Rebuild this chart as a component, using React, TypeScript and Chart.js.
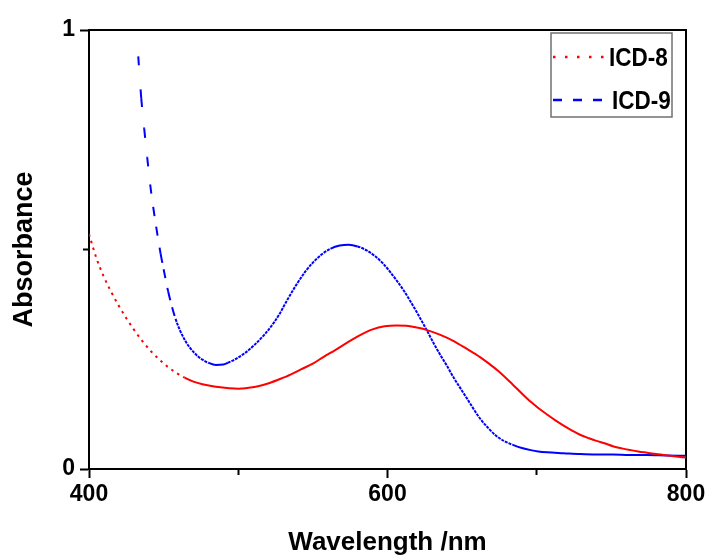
import { useEffect, useRef } from "react";
import { Chart, registerables } from "chart.js";

Chart.register(...registerables);

// ---- data ----
const wavelengthICD8 = [
  400, 405, 410, 415, 420, 425, 430, 436, 442, 448, 453, 459, 464, 470, 476, 482, 488, 494, 500,
  507, 514, 521, 528, 535, 542, 550, 557, 565, 573, 581, 590, 598, 606, 614, 620, 626, 635, 644,
  653, 662, 668, 675, 684, 690, 696, 701, 707, 712, 718, 724, 729, 735, 740, 746, 751, 757, 763,
  768, 774, 780, 785, 792, 800,
];
const absorbanceICD8 = [
  0.535, 0.48, 0.4375, 0.4025, 0.3715, 0.3435, 0.318, 0.2904, 0.2665, 0.2465, 0.232, 0.218, 0.208,
  0.199, 0.193, 0.189, 0.186, 0.184, 0.183, 0.185, 0.189, 0.196, 0.205, 0.215, 0.227, 0.24, 0.255,
  0.271, 0.288, 0.304, 0.318, 0.325, 0.327, 0.326, 0.322, 0.317, 0.306, 0.292, 0.274, 0.255, 0.24,
  0.221, 0.192, 0.172, 0.153, 0.139, 0.124, 0.112, 0.099, 0.087, 0.078, 0.07, 0.064, 0.058, 0.052,
  0.047, 0.043, 0.04, 0.037, 0.034, 0.032, 0.029, 0.026,
];
const wavelengthICD9 = [
  433, 435, 437, 439, 441, 443, 445, 448, 450, 453, 458, 464, 471, 476, 480, 485, 490, 493, 498,
  504, 511, 518, 524, 528, 532, 539, 545, 550, 556, 562, 568, 574, 580, 586, 592, 597, 602, 606,
  611, 615, 620, 626, 631, 635, 640, 644, 649, 653, 658, 662, 667, 673, 678, 684, 690, 696, 701,
  707, 718, 729, 740, 751, 762, 774, 786, 800,
];
const absorbanceICD9 = [
  0.94, 0.845, 0.775, 0.71, 0.648, 0.597, 0.552, 0.49, 0.455, 0.405, 0.342, 0.295, 0.263, 0.249,
  0.242, 0.237, 0.238, 0.242, 0.25, 0.263, 0.283, 0.308, 0.334, 0.355, 0.38, 0.42, 0.45, 0.47,
  0.489, 0.502, 0.509, 0.511, 0.507, 0.498, 0.484, 0.468, 0.448, 0.43, 0.406, 0.384, 0.355, 0.318,
  0.286, 0.262, 0.234, 0.21, 0.183, 0.162, 0.135, 0.115, 0.095, 0.075, 0.064, 0.055, 0.048, 0.043,
  0.04, 0.038, 0.036, 0.034, 0.033, 0.033, 0.032, 0.032, 0.031, 0.03,
];
const seriesNames = ["ICD-8", "ICD-9"];
const seriesColors = ["#ff0000", "#0000ff"];
const xMajorTicks = [400, 600, 800];
const yMajorTicks = [0, 1];
const xAxisTitle = "Wavelength /nm";
const yAxisTitle = "Absorbance";

const FONT = '"Liberation Sans", Arial, Helvetica, sans-serif';

const slope = (c: any) =>
  Math.abs((c.p1.y - c.p0.y) / Math.max(0.01, Math.abs(c.p1.x - c.p0.x)));

export default function App() {
  const ref = useRef<HTMLCanvasElement>(null);

  useEffect(() => {
    const canvas = ref.current;
    if (!canvas) return;

    const legendDashes = [
      [2.5, 9.5],
      [9, 11],
    ];

    const boxLegend = {
      id: "boxLegend",
      afterDatasetsDraw(chart: any) {
        const ctx = chart.ctx as CanvasRenderingContext2D;
        const a = chart.chartArea;
        const x0 = a.right - 135;
        const y0 = a.top + 3;
        const w = 121;
        const h = 84;
        ctx.save();
        ctx.fillStyle = "#ffffff";
        ctx.fillRect(x0, y0, w, h);
        ctx.strokeStyle = "#707070";
        ctx.lineWidth = 1.5;
        ctx.strokeRect(x0, y0, w, h);
        const rowsY = [y0 + 24, y0 + 67];
        chart.data.datasets.forEach((ds: any, i: number) => {
          const y = rowsY[i];
          ctx.beginPath();
          ctx.setLineDash(legendDashes[i]);
          ctx.strokeStyle = ds.borderColor;
          ctx.lineWidth = 2.5;
          ctx.moveTo(x0 + 2, y);
          ctx.lineTo(x0 + 53, y);
          ctx.stroke();
          ctx.setLineDash([]);
          ctx.save();
          ctx.translate(x0 + 58 + i * 3, y + 9);
          ctx.scale(0.9, 1);
          ctx.font = `bold 25px ${FONT}`;
          ctx.fillStyle = "#000";
          ctx.textBaseline = "alphabetic";
          ctx.textAlign = "left";
          ctx.fillText(ds.label, 0, 0);
          ctx.restore();
        });
        ctx.restore();
      },
    };

    const chart = new Chart(canvas, {
      type: "line",
      data: {
        datasets: [
          {
            label: seriesNames[0],
            data: wavelengthICD8.map((x, i) => ({ x, y: absorbanceICD8[i] })),
            borderColor: seriesColors[0],
            backgroundColor: seriesColors[0],
            borderWidth: 2,
            pointRadius: 0,
            fill: false,
            cubicInterpolationMode: "monotone",
            segment: {
              borderDash: (c: any) =>
                c.p0.parsed && c.p0.parsed.x < 470 && slope(c) > 0.5 ? [2.5, 4.5] : undefined,
            },
          },
          {
            label: seriesNames[1],
            data: wavelengthICD9.map((x, i) => ({ x, y: absorbanceICD9[i] })),
            borderColor: seriesColors[1],
            backgroundColor: seriesColors[1],
            borderWidth: 2,
            pointRadius: 0,
            fill: false,
            cubicInterpolationMode: "monotone",
            segment: {
              borderDash: (c: any) => {
                const s = slope(c);
                if (s > 2.5) return [9, Math.min(24, Math.max(6, 2 * s))];
                if (s > 0.4) return [3, 1];
                return undefined;
              },
            },
          },
        ],
      },
      options: {
        animation: false,
        responsive: true,
        maintainAspectRatio: false,
        layout: { padding: { left: 0, top: 30, right: 24, bottom: 0 } },
        plugins: {
          legend: { display: false },
          tooltip: { enabled: false },
        },
        scales: {
          x: {
            type: "linear",
            position: "bottom",
            min: 400,
            max: 800,
            ticks: {
              stepSize: 100,
              autoSkip: false,
              maxRotation: 0,
              padding: 3,
              color: "#000",
              font: { family: FONT, size: 23, weight: "bold" },
              callback: (v: any) => (xMajorTicks.includes(Number(v)) ? String(v) : ""),
            },
            grid: {
              drawOnChartArea: false,
              drawTicks: true,
              tickLength: 9,
              tickWidth: 2,
              tickColor: "#000",
              tickBorderDash: (c: any) =>
                xMajorTicks.includes(c.tick?.value) ? [] : [5, 20],
            },
            border: { display: true, color: "#000", width: 2 },
            title: {
              display: true,
              text: xAxisTitle,
              color: "#000",
              font: { family: FONT, size: 26, weight: "bold" },
              padding: { top: 0, bottom: -2 },
            },
            afterFit: (s: any) => {
              s.height = 87;
            },
          },
          y: {
            type: "linear",
            position: "left",
            min: 0,
            max: 1,
            ticks: {
              stepSize: 0.5,
              padding: 5,
              color: "#000",
              font: { family: FONT, size: 23, weight: "bold" },
              callback: (v: any) => (yMajorTicks.includes(Number(v)) ? String(v) : ""),
            },
            grid: {
              drawOnChartArea: false,
              drawTicks: true,
              tickLength: 9,
              tickWidth: 2,
              tickColor: "#000",
              tickBorderDash: (c: any) =>
                yMajorTicks.includes(c.tick?.value) ? [] : [0, 3, 10],
            },
            border: { display: true, color: "#000", width: 2 },
            title: {
              display: true,
              text: yAxisTitle,
              color: "#000",
              font: { family: FONT, size: 27, weight: "bold" },
              padding: { top: 8, bottom: 0 },
            },
            afterFit: (s: any) => {
              s.width = 89;
            },
          },
          x2: {
            type: "linear",
            position: "top",
            min: 400,
            max: 800,
            ticks: { display: false },
            grid: { drawOnChartArea: false, drawTicks: false },
            border: { display: true, color: "#000", width: 2 },
            afterFit: (s: any) => {
              s.height = 0;
            },
          },
          y2: {
            type: "linear",
            position: "right",
            min: 0,
            max: 1,
            ticks: { display: false },
            grid: { drawOnChartArea: false, drawTicks: false },
            border: { display: true, color: "#000", width: 2 },
            afterFit: (s: any) => {
              s.width = 0;
            },
          },
        },
      } as any,
      plugins: [boxLegend],
    });

    return () => chart.destroy();
  }, []);

  return (
    <div style={{ position: "fixed", left: 0, top: 0, width: 710, height: 556 }}>
      <canvas ref={ref} />
    </div>
  );
}
